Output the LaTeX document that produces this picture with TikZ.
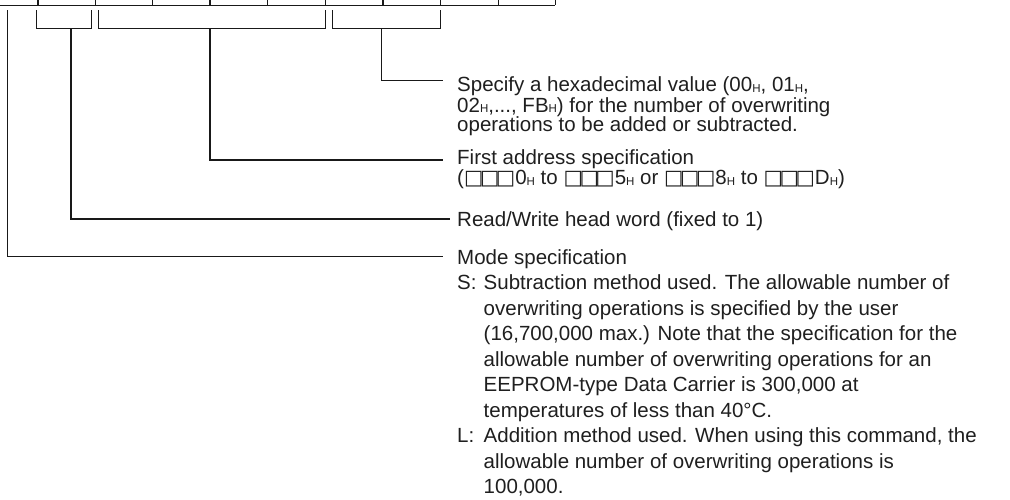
\documentclass[tikz,border=0pt]{standalone}
\usepackage{fontspec}
\setmainfont{Liberation Sans}
\newfontfamily\boxfont{DejaVu Sans}
\usetikzlibrary{calc}

\newcommand{\hsub}{\raisebox{-0.7pt}{\fontsize{11.5}{11.5}\selectfont H}}
\newcommand{\sqtrio}{{\boxfont □\kern-3.4pt□\kern-3.4pt□}}

\begin{document}
\begin{tikzpicture}[x=1pt, y=1pt,
  rule/.style={line width=1.2pt, black!90},
  lbl/.style={anchor=base west, inner sep=0pt, align=left, text=black!88, font=\fontsize{20.5}{20}\selectfont},
  lblwide/.style={lbl, font=\fontsize{20.5}{25.5}\selectfont}
]
  \useasboundingbox (0,0) rectangle (1010,-500);

  % bottom edge of the command table
  \draw[rule] (0,-5.2) -- (555.4,-5.2);
  \foreach \x in {37.9, 95.4, 152.5, 210, 267.6, 325.4, 383, 440.8, 498.3, 555.4}
    \draw[rule] (\x,0) -- (\x,-5.2);

  % brackets under the cells
  \draw[rule] (36.8,-10.3) |- (91.3,-28.2) -- (91.3,-10.3);
  \draw[rule] (98.8,-10.3) |- (325.4,-28.2) -- (325.4,-10.3);
  \draw[rule] (332.3,-10.3) |- (440.8,-28.2) -- (440.8,-10.3);
  \coordinate (headtap) at (71,-28.2);
  \coordinate (addrtap) at (210,-28.2);
  \coordinate (hextap) at (381.5,-28.2);
  \coordinate (modetap) at (7.8,-10.3);

  % descriptions (anchored on the baseline of their last line)
  \node[lbl] (hexval) at (457,-132) {Specify a hexadecimal value (00\hsub, 01\hsub,\\
    02\hsub,..., FB\hsub) for the number of overwriting\\
    operations to be added or subtracted.};
  \node[lbl] (addr) at (457,-185) {First address specification\\
    (\sqtrio0\hsub{} to \sqtrio5\hsub{} or \sqtrio8\hsub{} to \sqtrio D\hsub)};
  \node[lbl] (headword) at (457,-226.5) {Read/Write head word (fixed to 1)};
  \node[lblwide] (mode) at (457,-493.5) {Mode specification\\
    \makebox[26.5pt][l]{S:}Subtraction method used. The allowable number of\\
    \hspace*{26.5pt}overwriting operations is specified by the user\\
    \hspace*{26.5pt}(16,700,000 max.) Note that the specification for the\\
    \hspace*{26.5pt}allowable number of overwriting operations for an\\
    \hspace*{26.5pt}EEPROM-type Data Carrier is 300,000 at\\
    \hspace*{26.5pt}temperatures of less than 40°C.\\
    \makebox[26.5pt][l]{L:}Addition method used. When using this command, the\\
    \hspace*{26.5pt}allowable number of overwriting operations is\\
    \hspace*{26.5pt}100,000.};

  % leader lines
  \draw[rule] (hextap) |- ([xshift=-14pt, yshift=51.3pt]hexval.base west);
  \draw[rule] (addrtap) |- ([xshift=-14pt, yshift=25pt]addr.base west);
  \draw[rule] (headtap) |- ([xshift=-7pt, yshift=7.5pt]headword.base west);
  \draw[rule] (modetap) |- ([xshift=-14pt, yshift=236.8pt]mode.base west);
\end{tikzpicture}
\end{document}
